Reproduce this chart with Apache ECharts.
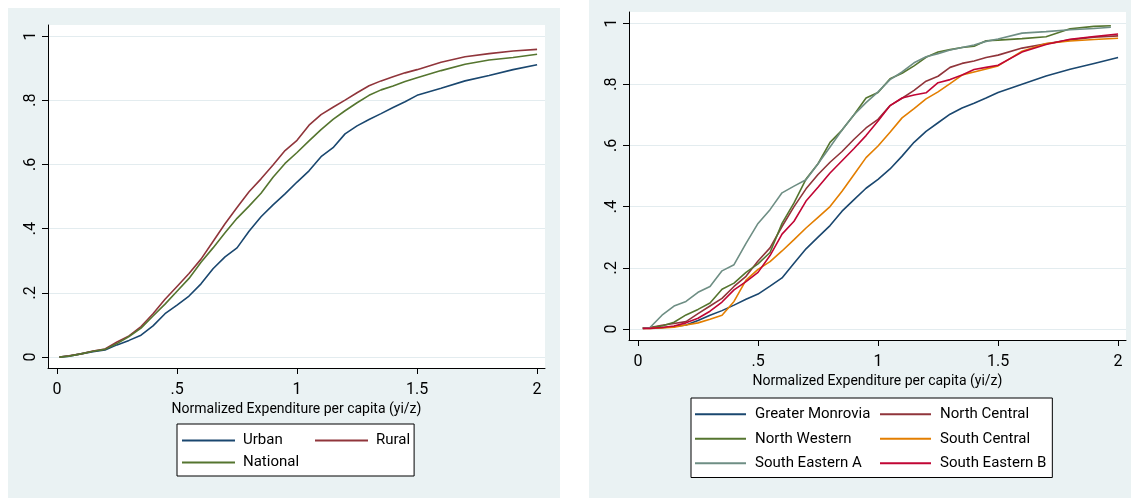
<!DOCTYPE html>
<html>
<head>
<meta charset="utf-8">
<script src="https://cdn.jsdelivr.net/npm/echarts@6/dist/echarts.min.js"></script>
<style>
  html, body { margin: 0; background: #fff; }
  #chart { width: 1131px; height: 500px; }
</style>
</head>
<body>
<div id="chart"></div>
<script>
const xLeft = [0.01, 0.05, 0.1, 0.15, 0.2, 0.25, 0.3, 0.35, 0.4, 0.45, 0.5, 0.55, 0.6, 0.65, 0.7, 0.75, 0.8, 0.85, 0.9, 0.95,
  1.0, 1.05, 1.1, 1.15, 1.2, 1.25, 1.3, 1.35, 1.4, 1.45, 1.5, 1.6, 1.7, 1.8, 1.9, 2.0];
const xRight = [0.02, 0.05, 0.1, 0.15, 0.2, 0.25, 0.3, 0.35, 0.4, 0.45, 0.5, 0.55, 0.6, 0.65, 0.7, 0.75, 0.8, 0.85, 0.9, 0.95,
  1.0, 1.05, 1.1, 1.15, 1.2, 1.25, 1.3, 1.35, 1.4, 1.45, 1.5, 1.6, 1.7, 1.8, 1.9, 2.0];
// two regions stop just short of 2
const xRightShort = [0.02, 0.05, 0.1, 0.15, 0.2, 0.25, 0.3, 0.35, 0.4, 0.45, 0.5, 0.55, 0.6, 0.65, 0.7, 0.75, 0.8, 0.85, 0.9, 0.95,
  1.0, 1.05, 1.1, 1.15, 1.2, 1.25, 1.3, 1.35, 1.4, 1.45, 1.5, 1.6, 1.7, 1.8, 1.9, 1.97];

// left panel: urban / rural / national
const urban = [0, 0.003, 0.01, 0.017, 0.022, 0.038, 0.052, 0.068, 0.097, 0.135, 0.162, 0.19, 0.228, 0.275, 0.312, 0.34, 0.392, 0.437, 0.474, 0.508,
  0.545, 0.58, 0.624, 0.652, 0.695, 0.72, 0.74, 0.758, 0.777, 0.795, 0.815, 0.837, 0.86, 0.877, 0.895, 0.91];
const rural = [0, 0.004, 0.01, 0.019, 0.025, 0.047, 0.066, 0.095, 0.135, 0.18, 0.22, 0.26, 0.305, 0.36, 0.415, 0.466, 0.515, 0.555, 0.598, 0.643,
  0.675, 0.722, 0.755, 0.778, 0.8, 0.823, 0.845, 0.86, 0.873, 0.885, 0.895, 0.918, 0.935, 0.945, 0.953, 0.958];
const national = [0, 0.003, 0.01, 0.018, 0.024, 0.042, 0.064, 0.09, 0.128, 0.165, 0.205, 0.245, 0.295, 0.34, 0.387, 0.432, 0.47, 0.51, 0.56, 0.603,
  0.637, 0.673, 0.708, 0.74, 0.767, 0.792, 0.815, 0.832, 0.844, 0.858, 0.87, 0.892, 0.912, 0.925, 0.933, 0.943];

// right panel: regions
const greaterMonrovia = [0.002, 0.003, 0.004, 0.008, 0.013, 0.028, 0.045, 0.06, 0.078, 0.097, 0.114, 0.14, 0.167, 0.215, 0.262, 0.3, 0.338, 0.385, 0.423, 0.46,
  0.489, 0.523, 0.565, 0.61, 0.646, 0.674, 0.702, 0.722, 0.738, 0.755, 0.773, 0.8, 0.827, 0.849, 0.868, 0.887];
const northCentral = [0.003, 0.005, 0.012, 0.018, 0.024, 0.05, 0.075, 0.1, 0.139, 0.172, 0.222, 0.265, 0.335, 0.4, 0.458, 0.505, 0.545, 0.58, 0.62, 0.657,
  0.685, 0.73, 0.754, 0.78, 0.81, 0.826, 0.855, 0.868, 0.876, 0.887, 0.895, 0.918, 0.932, 0.945, 0.954, 0.958];
const northWestern = [0.003, 0.004, 0.01, 0.022, 0.046, 0.064, 0.085, 0.13, 0.15, 0.185, 0.213, 0.25, 0.345, 0.412, 0.49, 0.54, 0.61, 0.65, 0.7, 0.755,
  0.773, 0.818, 0.836, 0.86, 0.888, 0.905, 0.913, 0.92, 0.924, 0.942, 0.944, 0.949, 0.955, 0.981, 0.989, 0.991];
const southCentral = [0.002, 0.002, 0.003, 0.006, 0.013, 0.02, 0.032, 0.045, 0.09, 0.16, 0.195, 0.22, 0.255, 0.292, 0.33, 0.365, 0.4, 0.45, 0.505, 0.56,
  0.598, 0.643, 0.69, 0.72, 0.752, 0.775, 0.802, 0.83, 0.84, 0.85, 0.86, 0.908, 0.933, 0.941, 0.946, 0.95];
const southEasternA = [0.003, 0.005, 0.045, 0.075, 0.09, 0.12, 0.139, 0.19, 0.21, 0.28, 0.345, 0.39, 0.445, 0.467, 0.488, 0.54, 0.595, 0.65, 0.7, 0.74,
  0.775, 0.815, 0.84, 0.87, 0.89, 0.9, 0.912, 0.92, 0.928, 0.94, 0.948, 0.967, 0.972, 0.978, 0.982, 0.986];
const southEasternB = [0.002, 0.002, 0.005, 0.01, 0.02, 0.035, 0.058, 0.088, 0.128, 0.155, 0.185, 0.24, 0.31, 0.352, 0.418, 0.463, 0.51, 0.55, 0.59, 0.632,
  0.68, 0.73, 0.755, 0.765, 0.772, 0.805, 0.815, 0.83, 0.848, 0.855, 0.862, 0.905, 0.93, 0.947, 0.956, 0.964];

const xTicks = [0, 0.5, 1, 1.5, 2];
const yTicks = [0, 0.2, 0.4, 0.6, 0.8, 1];

const FONT = 'Roboto, "Liberation Sans", sans-serif';
const FS = 15;
const xTitle = 'Normalized Expenditure per capita (yi/z)';

// stata style labels: .5 instead of 0.5
const fmt = (v) => {
  const s = String(+v.toFixed(2));
  return s.startsWith('0.') ? s.slice(1) : s;
};
const pairs = (xs, ys) => ys.map((y, i) => [xs[i], y]);

function makeX(gridIndex, nameGap) {
  return {
    type: 'value', gridIndex, min: -0.0375, max: 2.033,
    name: xTitle, nameLocation: 'middle', nameGap,
    nameTextStyle: { fontFamily: FONT, fontSize: 14, color: '#000' },
    axisLine: { show: true, onZero: false, lineStyle: { color: '#000', width: 1 } },
    axisTick: { show: true, length: 6, customValues: xTicks, lineStyle: { color: '#000' } },
    axisLabel: { customValues: xTicks, formatter: fmt, margin: 14, fontFamily: FONT, fontSize: FS + 1, color: '#000' },
    splitLine: { show: false },
  };
}
function makeY(gridIndex, min, max) {
  return {
    type: 'value', gridIndex, min, max,
    axisLine: { show: true, onZero: false, lineStyle: { color: '#000', width: 1 } },
    axisTick: { show: true, length: 6, customValues: yTicks, lineStyle: { color: '#000' } },
    axisLabel: { customValues: yTicks, formatter: fmt, rotate: 90, margin: 9, fontFamily: FONT, fontSize: FS + 1, color: '#000' },
    splitLine: { show: true, lineStyle: { color: '#e3ecef', width: 1 } },
  };
}
function line(name, idx, xs, ys, color) {
  return {
    name, type: 'line', xAxisIndex: idx, yAxisIndex: idx,
    data: pairs(xs, ys), symbol: 'none', showSymbol: false,
    lineStyle: { color, width: 1.6 }, itemStyle: { color },
  };
}

const legendBase = {
  orient: 'horizontal', icon: 'rect', itemHeight: 2,
  borderColor: '#000', borderWidth: 1, backgroundColor: '#fff',
  textStyle: { fontFamily: FONT, fontSize: FS, color: '#000', padding: [0, 0, 0, 3] },
};

const chart = echarts.init(document.getElementById('chart'), null, { renderer: 'canvas' });
chart.setOption({
  animation: false,
  backgroundColor: '#fff',
  // light bluish graph regions behind each panel
  graphic: [
    { type: 'rect', z: -10, silent: true, shape: { x: 8, y: 8, width: 552, height: 490 }, style: { fill: '#eaf2f3' } },
    { type: 'rect', z: -10, silent: true, shape: { x: 589, y: 0, width: 542, height: 498 }, style: { fill: '#eaf2f3' } },
  ],
  grid: [
    { left: 48, top: 25, width: 497, height: 343, show: true, backgroundColor: '#fff', borderWidth: 0 },
    { left: 629, top: 12, width: 497, height: 328, show: true, backgroundColor: '#fff', borderWidth: 0 },
  ],
  xAxis: [makeX(0, 31), makeX(1, 32)],
  yAxis: [makeY(0, -0.034, 1.034), makeY(1, -0.036, 1.036)],
  legend: [
    Object.assign({}, legendBase, {
      left: 177, top: 424, width: 245, itemWidth: 53, itemGap: 7,
      padding: [9, 4, 6, 5],
      textStyle: Object.assign({}, legendBase.textStyle, { lineHeight: 15 }),
      data: [
        { name: 'Urban', textStyle: { width: 65 } },
        { name: 'Rural', textStyle: { width: 34 } },
        { name: 'National', textStyle: { width: 65 } },
      ],
    }),
    Object.assign({}, legendBase, {
      left: 691, top: 398, width: 370, itemWidth: 51, itemGap: 8,
      padding: [8, 6, 6, 4],
      textStyle: Object.assign({}, legendBase.textStyle, { lineHeight: 16.5, padding: [0, 0, 0, 4] }),
      data: [
        { name: 'Greater Monrovia', textStyle: { width: 117 } },
        { name: 'North Central', textStyle: { width: 98 } },
        { name: 'North Western', textStyle: { width: 117 } },
        { name: 'South Central', textStyle: { width: 98 } },
        { name: 'South Eastern A', textStyle: { width: 117 } },
        { name: 'South Eastern B', textStyle: { width: 98 } },
      ],
    }),
  ],
  series: [
    line('Urban', 0, xLeft, urban, '#1a476f'),
    line('Rural', 0, xLeft, rural, '#90353b'),
    line('National', 0, xLeft, national, '#55752f'),
    line('Greater Monrovia', 1, xRight, greaterMonrovia, '#1a476f'),
    line('North Central', 1, xRight, northCentral, '#90353b'),
    line('North Western', 1, xRightShort, northWestern, '#55752f'),
    line('South Central', 1, xRight, southCentral, '#e37e00'),
    line('South Eastern A', 1, xRightShort, southEasternA, '#6e8e84'),
    line('South Eastern B', 1, xRight, southEasternB, '#c10534'),
  ],
});
</script>
</body>
</html>
